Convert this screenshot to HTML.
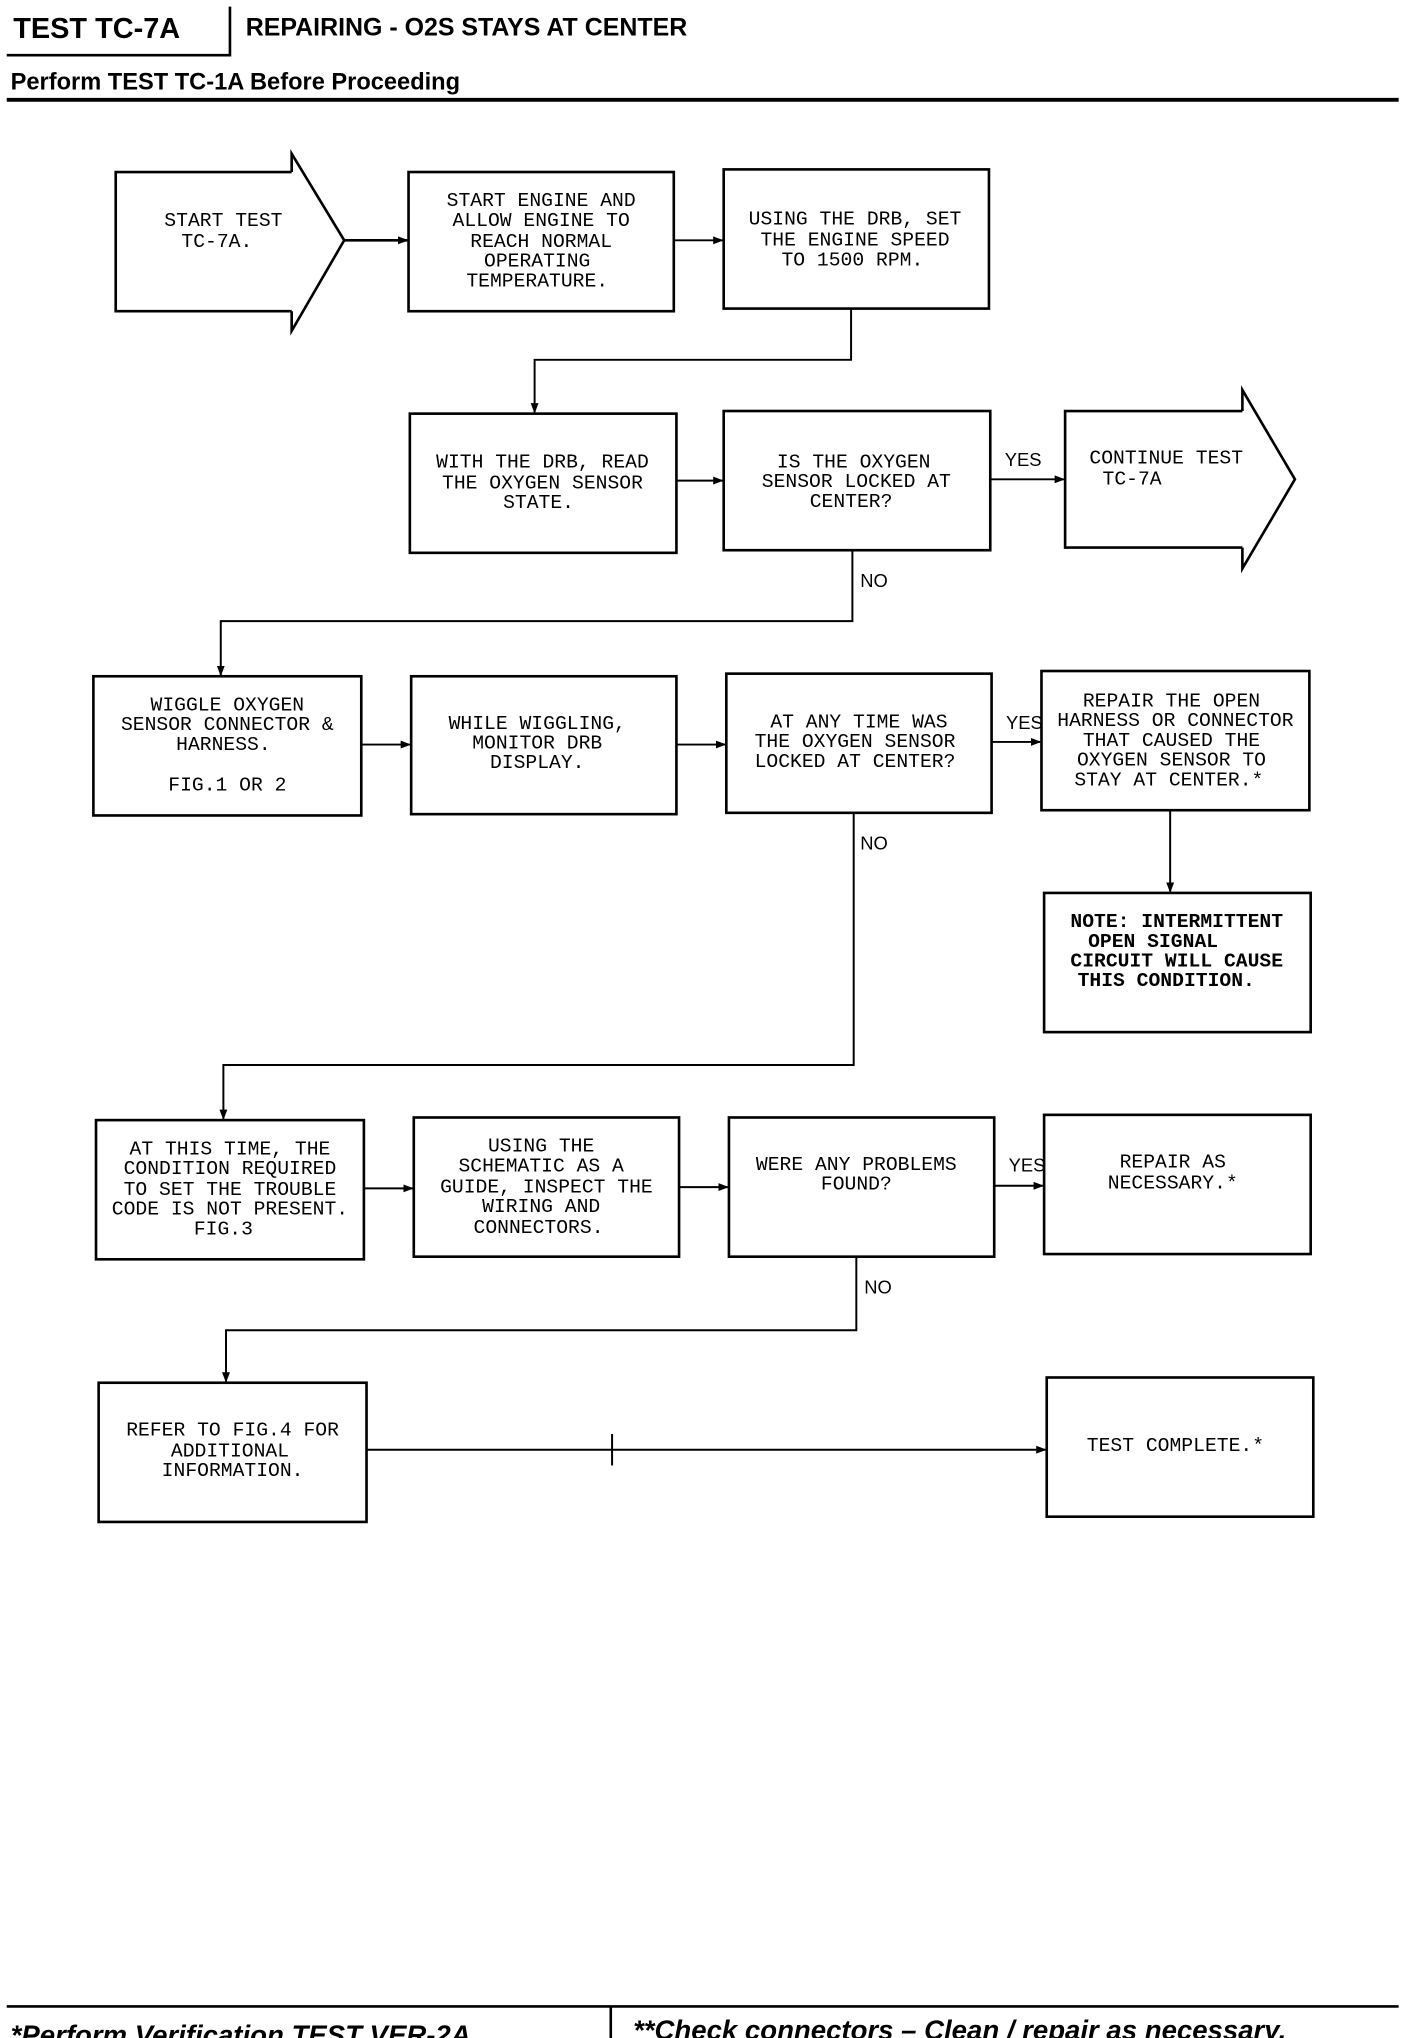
<!DOCTYPE html>
<html><head><meta charset="utf-8"><style>
html,body{margin:0;padding:0;background:#fff;}
svg{display:block}
.b{font-family:"Liberation Mono",monospace;font-size:15px;fill:#000;text-anchor:middle}
.l{font-family:"Liberation Sans",sans-serif;font-size:14px;fill:#000}
</style></head><body>
<svg width="1408" height="2038" viewBox="0 0 1072 1552" xmlns="http://www.w3.org/2000/svg">
<defs><marker id="a" markerWidth="8" markerHeight="8" refX="7" refY="4" orient="auto" markerUnits="userSpaceOnUse"><path d="M0,1 L8,4 L0,7 z" fill="#000"/></marker></defs>
<g font-family="Liberation Sans, sans-serif" font-weight="bold">
<text x="10" y="29" font-size="22">TEST TC-7A</text>
<text x="187" y="27" font-size="19">REPAIRING - O2S STAYS AT CENTER</text>
<text x="8" y="68" font-size="18">Perform TEST TC-1A Before Proceeding</text>
</g>
<g stroke="#000" fill="none" stroke-width="2">
<path d="M175,5 V42 H5"/>
<path d="M5,76 H1065" stroke-width="3"/>
<path d="M5,1528 H1065"/>
<path d="M465,1528 V1562"/>
<!-- row1 -->
<path d="M222,131 H88 V237 H222 M222,131 V117 L262,183 L222,252 V237"/>
<rect x="311" y="131" width="202" height="106"/>
<rect x="551" y="129" width="202" height="106"/>
<path d="M262,183 H310" marker-end="url(#a)"/>
<path d="M513,183 H550" stroke-width="1.5" marker-end="url(#a)"/>
<path d="M648,235 V274 H407 V314" stroke-width="1.5" marker-end="url(#a)"/>
<!-- row2 -->
<rect x="312" y="315" width="203" height="106"/>
<rect x="551" y="313" width="203" height="106"/>
<path d="M515,366 H550" stroke-width="1.5" marker-end="url(#a)"/>
<path d="M754,365 H810" stroke-width="1.5" marker-end="url(#a)"/>
<path d="M946,313 H811 V417 H946 M946,313 V297 L986,365 L946,433 V417"/>
<path d="M649,419 V473 H168 V514" stroke-width="1.5" marker-end="url(#a)"/>
<!-- row3 -->
<rect x="71" y="515" width="204" height="106"/>
<rect x="313" y="515" width="202" height="105"/>
<rect x="553" y="513" width="202" height="106"/>
<rect x="793" y="511" width="204" height="106"/>
<path d="M275,567 H312" stroke-width="1.5" marker-end="url(#a)"/>
<path d="M515,567 H552" stroke-width="1.5" marker-end="url(#a)"/>
<path d="M755,565 H792" stroke-width="1.5" marker-end="url(#a)"/>
<path d="M891,617 V679" stroke-width="1.5" marker-end="url(#a)"/>
<rect x="795" y="680" width="203" height="106"/>
<path d="M650,619 V811 H170 V852" stroke-width="1.5" marker-end="url(#a)"/>
<!-- row4 -->
<rect x="73" y="853" width="204" height="106"/>
<rect x="315" y="851" width="202" height="106"/>
<rect x="555" y="851" width="202" height="106"/>
<rect x="795" y="849" width="203" height="106"/>
<path d="M277,905 H314" stroke-width="1.5" marker-end="url(#a)"/>
<path d="M517,904 H554" stroke-width="1.5" marker-end="url(#a)"/>
<path d="M757,903 H794" stroke-width="1.5" marker-end="url(#a)"/>
<path d="M652,957 V1013 H172 V1052" stroke-width="1.5" marker-end="url(#a)"/>
<!-- row5 -->
<rect x="75" y="1053" width="204" height="106"/>
<rect x="797" y="1049" width="203" height="106"/>
<path d="M279,1104 H796" stroke-width="1.5" marker-end="url(#a)"/>
<path d="M466,1092 V1116" stroke-width="1.5"/>
</g>
<g class="b">
<text x="170" y="172">START TEST</text><text x="165" y="188">TC-7A.</text>
<text x="412" y="157">START ENGINE AND</text><text x="412" y="172">ALLOW ENGINE TO</text><text x="412" y="188">REACH NORMAL</text><text x="409" y="203">OPERATING</text><text x="409" y="218">TEMPERATURE.</text>
<text x="651" y="171">USING THE DRB, SET</text><text x="651" y="187">THE ENGINE SPEED</text><text x="649" y="202">TO 1500 RPM.</text>
<text x="413" y="356">WITH THE DRB, READ</text><text x="413" y="372">THE OXYGEN SENSOR</text><text x="410" y="387">STATE.</text>
<text x="650" y="356">IS THE OXYGEN</text><text x="652" y="371">SENSOR LOCKED AT</text><text x="648" y="386">CENTER?</text>
<text x="888" y="353">CONTINUE TEST</text><text x="862" y="369">TC-7A</text>
<text x="173" y="541">WIGGLE OXYGEN</text><text x="173" y="556">SENSOR CONNECTOR &amp;</text><text x="170" y="571">HARNESS.</text><text x="173" y="602">FIG.1 OR 2</text>
<text x="409" y="555">WHILE WIGGLING,</text><text x="409" y="570">MONITOR DRB</text><text x="409" y="585">DISPLAY.</text>
<text x="654" y="554">AT ANY TIME WAS</text><text x="651" y="569">THE OXYGEN SENSOR</text><text x="651" y="584">LOCKED AT CENTER?</text>
<text x="892" y="538">REPAIR THE OPEN</text><text x="895" y="553">HARNESS OR CONNECTOR</text><text x="892" y="568">THAT CAUSED THE</text><text x="892" y="583">OXYGEN SENSOR TO</text><text x="890" y="598">STAY AT CENTER.*</text>
<g font-weight="bold"><text x="896" y="706">NOTE: INTERMITTENT</text><text x="878" y="721">OPEN SIGNAL</text><text x="896" y="736">CIRCUIT WILL CAUSE</text><text x="888" y="751">THIS CONDITION.</text></g>
<text x="175" y="879">AT THIS TIME, THE</text><text x="175" y="894">CONDITION REQUIRED</text><text x="175" y="910">TO SET THE TROUBLE</text><text x="175" y="925">CODE IS NOT PRESENT.</text><text x="170" y="940">FIG.3</text>
<text x="412" y="877">USING THE</text><text x="412" y="892">SCHEMATIC AS A</text><text x="416" y="908">GUIDE, INSPECT THE</text><text x="412" y="923">WIRING AND</text><text x="410" y="939">CONNECTORS.</text>
<text x="652" y="891">WERE ANY PROBLEMS</text><text x="652" y="906">FOUND?</text>
<text x="893" y="889">REPAIR AS</text><text x="893" y="905">NECESSARY.*</text>
<text x="177" y="1093">REFER TO FIG.4 FOR</text><text x="175" y="1109">ADDITIONAL</text><text x="177" y="1124">INFORMATION.</text>
<text x="895" y="1105">TEST COMPLETE.*</text>
</g>
<g class="l">
<text x="765" y="355">YES</text><text x="655" y="447">NO</text>
<text x="766" y="555">YES</text><text x="655" y="647">NO</text>
<text x="768" y="892">YES</text><text x="658" y="985">NO</text>
</g>
<g font-family="Liberation Sans, sans-serif" font-weight="bold" font-style="italic" font-size="21">
<text x="8" y="1557">*Perform Verification TEST VER-2A.</text>
<text x="482" y="1553">**Check connectors – Clean / repair as necessary.</text>
</g>
</svg>
</body></html>
